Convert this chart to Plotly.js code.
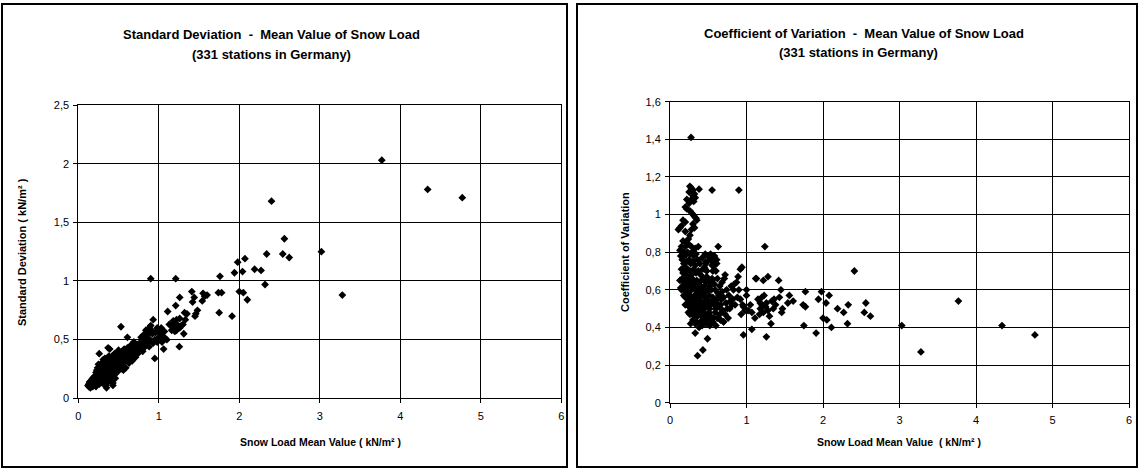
<!DOCTYPE html>
<html>
<head>
<meta charset="utf-8">
<script src="https://cdn.plot.ly/plotly-3.0.1.min.js"></script>
<style>html,body{margin:0;padding:0;background:#fff;}#chart{width:1140px;height:468px;}</style>
</head>
<body>
<div id="chart"></div>
<script>
// ---------- Left chart: Standard deviation vs mean value (kN/m²) ----------
const meanL = [
2.40,2.56,2.54,2.62,2.34,3.02,3.28,3.77,4.34,4.77,
2.07,1.98,1.94,2.04,2.19,2.27,2.32,1.76,1.74,1.78,1.75,1.91,2.00,2.05,2.10,1.55,1.60,1.54,1.41,1.44,1.42,1.46,1.48,1.45,
1.21,0.90,1.26,1.21,1.32,1.35,1.33,1.26,1.11,1.30,1.31,1.255,1.06,0.95,0.93,0.90,0.88,1.57,
1.15,1.18,1.20,1.22,1.24,1.18,1.22,1.26,1.16,1.20,1.28,1.13,
0.95,0.98,1.00,1.02,1.05,1.08,1.10,1.00,0.96,1.04,0.93,1.03,0.92,0.98,1.07,
0.75,0.78,0.80,0.82,0.85,0.87,0.84,0.86,0.80,0.78,0.83,0.89,0.76,0.91,0.88,0.81,0.74,
0.53,0.61,0.50,0.52,0.54,0.56,0.58,0.60,0.62,0.64,0.66,0.68,0.70,0.72,0.55,0.57,0.63,0.67,0.71,0.73,0.51,0.59,0.65,0.69,0.53,0.61,0.58,0.74,0.56,0.50,
0.13,0.14,0.15,0.16,0.17,0.18,0.19,0.15,0.17,0.19,0.20,0.14,0.18,0.16,0.20,0.13,0.12,
0.21,0.22,0.23,0.24,0.25,0.26,0.27,0.28,0.29,0.21,0.22,0.23,0.24,0.25,0.26,0.27,0.28,0.29,0.30,0.26,0.24,0.22,0.25,0.28,0.30,0.21,0.23,0.27,0.29,0.26,0.30,
0.31,0.32,0.33,0.34,0.35,0.36,0.37,0.38,0.39,0.31,0.32,0.33,0.34,0.35,0.36,0.37,0.38,0.39,0.40,0.31,0.33,0.35,0.37,0.39,0.36,0.40,0.32,0.34,0.38,0.40,
0.41,0.42,0.43,0.44,0.45,0.46,0.47,0.48,0.49,0.41,0.42,0.43,0.44,0.45,0.46,0.47,0.48,0.49,0.50,0.42,0.44,0.46,0.48,0.43,0.45
];
const sdL = [
1.68,1.36,1.23,1.20,1.23,1.25,0.88,2.03,1.78,1.71,
1.19,1.16,1.07,1.08,1.10,1.09,0.97,1.04,0.90,0.90,0.73,0.70,0.91,0.90,0.84,0.895,0.88,0.83,0.91,0.86,0.82,0.72,0.75,0.70,
1.02,1.02,0.86,0.79,0.73,0.72,0.67,0.68,0.74,0.63,0.55,0.44,0.42,0.34,0.67,0.62,0.60,0.87,
0.62,0.60,0.64,0.58,0.62,0.66,0.67,0.60,0.58,0.57,0.62,0.63,
0.50,0.48,0.52,0.55,0.53,0.51,0.50,0.58,0.56,0.48,0.47,0.60,0.55,0.60,0.57,
0.42,0.45,0.47,0.50,0.52,0.55,0.58,0.48,0.40,0.52,0.44,0.50,0.47,0.58,0.44,0.54,0.38,
0.61,0.52,0.30,0.33,0.28,0.35,0.31,0.38,0.34,0.40,0.36,0.42,0.39,0.44,0.40,0.42,0.30,0.32,0.35,0.46,0.37,0.26,0.45,0.48,0.25,0.43,0.36,0.41,0.24,0.41,
0.10,0.12,0.09,0.11,0.13,0.10,0.14,0.13,0.16,0.18,0.12,0.14,0.17,0.15,0.16,0.12,0.11,
0.13,0.15,0.18,0.20,0.22,0.24,0.26,0.19,0.21,0.19,0.22,0.12,0.14,0.16,0.18,0.15,0.28,0.17,0.24,0.38,0.26,0.10,0.29,0.23,0.13,0.16,0.24,0.20,0.30,0.12,0.19,
0.16,0.20,0.22,0.25,0.28,0.30,0.32,0.18,0.21,0.26,0.30,0.14,0.11,0.09,0.19,0.24,0.27,0.34,0.29,0.33,0.34,0.22,0.43,0.42,0.13,0.16,0.24,0.18,0.36,0.23,
0.20,0.25,0.13,0.28,0.31,0.34,0.37,0.22,0.27,0.32,0.19,0.30,0.35,0.24,0.17,0.29,0.33,0.39,0.25,0.36,0.22,0.27,0.30,0.11,0.38
];

// ---------- Right chart: Coefficient of variation vs mean value ----------
const meanR = [
0.275,0.38,0.55,0.90,0.63,1.24,2.41,0.94,0.92,0.87,0.84,0.89,1.00,1.00,
1.12,1.13,1.22,1.28,1.42,1.45,1.77,1.98,2.08,1.94,2.04,1.56,1.61,1.54,1.74,1.77,2.19,2.27,2.33,2.32,2.00,2.05,2.11,1.91,1.75,2.56,2.54,2.62,1.32,1.07,1.26,0.96,
1.15,1.20,1.18,1.18,1.22,1.26,1.33,1.36,1.35,1.30,1.11,1.07,1.02,0.96,1.47,1.46,1.43,1.05,0.98,1.20,1.25,1.17,1.28,1.23,1.38,
3.03,3.28,3.77,4.34,4.77,
0.80,0.82,0.78,0.85,0.88,0.76,0.72,0.90,0.92,0.95,0.93,
0.72,0.71,0.65,0.63,0.67,0.73,0.79,0.81,0.75,0.69,0.65,0.59,0.57,0.55,0.49,0.52,0.61,0.46,0.66,0.70,0.74,0.68,0.62,0.60,0.58,0.61,0.57,0.53,0.50,0.47,0.55,0.59,0.64,0.77,0.83,
0.26,0.28,0.30,0.32,0.25,0.30,0.33,0.22,0.28,0.31,0.20,0.25,0.22,0.26,0.30,0.34,0.28,0.32,0.35,0.17,0.20,0.13,0.11,0.15,0.20,0.26,0.24,0.30,0.32,0.28,0.17,0.20,0.22,0.25,0.28,0.33,0.37,0.15,0.18,0.13,
0.14,0.16,0.19,0.21,0.23,0.26,0.29,0.31,0.34,0.18,0.20,0.22,0.25,0.27,0.30,0.33,0.36,0.39,0.42,0.15,0.17,0.19,0.21,0.23,0.26,0.28,0.31,0.34,0.37,0.40,0.43,0.13,0.16,0.18,0.20,0.22,0.24,0.27,0.29,0.32,0.35,0.38,0.41,0.44,0.14,0.15,0.17,0.19,0.21,0.23,0.25,0.28,0.30,0.33,0.36,0.39,0.42,0.45,0.47,0.49,0.48,0.45,
0.18,0.20,0.22,0.24,0.26,0.28,0.30,0.32,0.34,0.36,0.38,0.40,0.43,0.46,0.48,0.51,0.54,0.56,0.20,0.23,0.25,0.27,0.29,0.31,0.33,0.35,0.37,0.39,0.41,0.44,0.47,0.50,0.53,0.55,0.58,0.24,0.26,0.28,0.30,0.32,0.34,0.36,0.38,0.41,0.43,0.46,0.48,0.51,0.53,0.60,0.62,0.66,0.70,0.68,0.64,0.58,0.55,0.52,0.50,
0.27,0.30,0.33,0.35,0.38,0.40,0.42,0.45,0.47,0.33,0.36,0.43,0.49,0.52,0.56,0.62,0.66,0.70,0.60,
0.46,0.50,0.53,0.55,0.56,0.55,0.52,0.48,0.46,0.47,0.58,0.61
];
const cvR = [
1.41,1.135,1.13,1.13,0.83,0.83,0.70,0.72,0.71,0.64,0.63,0.67,0.60,0.57,
0.66,0.66,0.65,0.67,0.65,0.60,0.59,0.59,0.57,0.55,0.53,0.57,0.54,0.53,0.52,0.51,0.50,0.48,0.52,0.42,0.45,0.44,0.40,0.37,0.41,0.53,0.48,0.46,0.42,0.39,0.35,0.36,
0.55,0.56,0.53,0.50,0.48,0.53,0.54,0.55,0.50,0.46,0.45,0.48,0.49,0.51,0.50,0.48,0.56,0.52,0.49,0.52,0.51,0.47,0.49,0.57,0.52,
0.41,0.27,0.54,0.41,0.36,
0.62,0.55,0.50,0.52,0.56,0.45,0.47,0.60,0.55,0.52,0.47,
0.68,0.66,0.62,0.58,0.55,0.53,0.54,0.52,0.50,0.49,0.47,0.48,0.45,0.43,0.44,0.50,0.53,0.56,0.44,0.43,0.60,0.64,0.66,0.70,0.73,0.76,0.78,0.79,0.78,0.74,0.75,0.60,0.51,0.57,0.60,
1.15,1.14,1.13,1.11,1.12,1.10,1.09,1.08,1.08,1.07,1.04,1.06,1.03,1.02,1.00,0.98,1.01,0.99,0.97,0.97,0.96,0.93,0.92,0.94,0.91,0.89,0.87,0.95,0.93,0.92,0.86,0.83,0.85,0.84,0.83,0.82,0.83,0.83,0.80,0.81,
0.78,0.76,0.78,0.79,0.80,0.79,0.80,0.78,0.79,0.74,0.72,0.75,0.76,0.74,0.75,0.73,0.76,0.74,0.77,0.71,0.69,0.70,0.68,0.71,0.70,0.68,0.71,0.69,0.70,0.68,0.71,0.65,0.66,0.64,0.65,0.63,0.66,0.64,0.66,0.64,0.65,0.63,0.65,0.66,0.61,0.60,0.62,0.60,0.61,0.59,0.61,0.60,0.62,0.60,0.61,0.59,0.61,0.62,0.64,0.66,0.70,0.72,
0.57,0.56,0.58,0.55,0.57,0.56,0.54,0.57,0.55,0.58,0.56,0.54,0.57,0.59,0.55,0.57,0.60,0.56,0.52,0.53,0.51,0.53,0.50,0.52,0.51,0.53,0.50,0.52,0.50,0.53,0.51,0.53,0.52,0.54,0.52,0.48,0.47,0.49,0.47,0.46,0.48,0.46,0.48,0.46,0.49,0.47,0.45,0.48,0.46,0.50,0.55,0.52,0.56,0.59,0.57,0.63,0.65,0.62,0.60,
0.42,0.44,0.42,0.43,0.40,0.43,0.41,0.44,0.42,0.37,0.25,0.28,0.34,0.41,0.43,0.45,0.44,0.43,0.41,
0.79,0.78,0.76,0.73,0.70,0.66,0.64,0.67,0.71,0.75,0.78,0.74
];

const leftTitle1 = "Standard Deviation  -  Mean Value of Snow Load";
const leftTitle2 = "(331 stations in Germany)";
const rightTitle1 = "Coefficient of Variation  -  Mean Value of Snow Load";
const rightTitle2 = "(331 stations in Germany)";
const leftYTitle = "Standard Deviation ( kN/m² )";
const rightYTitle = "Coefficient of Variation";
const leftXTitle = "Snow Load Mean Value ( kN/m² )";
const rightXTitle = "Snow Load Mean Value  ( kN/m² )";

const W = 1140, H = 468;
const px = v => v / W;
const py = v => 1 - v / H;
const FONT = "Liberation Sans, Arial, sans-serif";

const marker = {symbol: 'diamond', size: 6, color: '#000', line: {width: 0}};

const traces = [
  {type: 'scatter', mode: 'markers', x: meanL, y: sdL, xaxis: 'x', yaxis: 'y', marker: marker, hoverinfo: 'x+y'},
  {type: 'scatter', mode: 'markers', x: meanR, y: cvR, xaxis: 'x2', yaxis: 'y2', marker: marker, hoverinfo: 'x+y'}
];

const axisCommon = {
  showgrid: true, gridcolor: '#000', gridwidth: 1,
  showline: true, linecolor: '#000', linewidth: 1, mirror: true,
  ticks: 'outside', ticklen: 4, tickcolor: '#000', tickwidth: 1,
  tickfont: {family: FONT, size: 11, color: '#000'},
  zeroline: false, fixedrange: true
};

const layout = {
  width: W, height: H,
  margin: {l: 0, r: 0, t: 0, b: 0},
  paper_bgcolor: '#fff', plot_bgcolor: '#fff',
  separators: ', ',
  showlegend: false,
  font: {family: FONT, color: '#000'},
  xaxis: Object.assign({}, axisCommon, {domain: [px(78.3), px(561.3)], range: [0, 6], dtick: 1, tick0: 0, anchor: 'y', ticklabelstandoff: 3}),
  yaxis: Object.assign({}, axisCommon, {domain: [py(398.3), py(105)], range: [0, 2.5], dtick: 0.5, tick0: 0, anchor: 'x', ticklabelstandoff: 2}),
  xaxis2: Object.assign({}, axisCommon, {domain: [px(670), px(1129)], range: [0, 6], dtick: 1, tick0: 0, anchor: 'y2', ticklabelstandoff: 3}),
  yaxis2: Object.assign({}, axisCommon, {domain: [py(402.7), py(101.7)], range: [0, 1.6], dtick: 0.2, tick0: 0, anchor: 'x2', ticklabelstandoff: 2}),
  shapes: [
    {type: 'rect', xref: 'paper', yref: 'paper', x0: px(2), x1: px(567), y0: py(467), y1: py(4), line: {color: '#000', width: 2}},
    {type: 'rect', xref: 'paper', yref: 'paper', x0: px(577), x1: px(1137), y0: py(467), y1: py(4), line: {color: '#000', width: 2}}
  ],
  annotations: [
    {text: '<b>' + leftTitle1 + '</b>', x: px(271.5), y: py(35), xref: 'paper', yref: 'paper', showarrow: false, xanchor: 'center', yanchor: 'middle', font: {family: FONT, size: 13, color: '#000'}},
    {text: '<b>' + leftTitle2 + '</b>', x: px(271), y: py(54), xref: 'paper', yref: 'paper', showarrow: false, xanchor: 'center', yanchor: 'middle', font: {family: FONT, size: 13, color: '#000'}},
    {text: '<b>' + rightTitle1 + '</b>', x: px(864), y: py(33.5), xref: 'paper', yref: 'paper', showarrow: false, xanchor: 'center', yanchor: 'middle', font: {family: FONT, size: 13, color: '#000'}},
    {text: '<b>' + rightTitle2 + '</b>', x: px(858), y: py(52.5), xref: 'paper', yref: 'paper', showarrow: false, xanchor: 'center', yanchor: 'middle', font: {family: FONT, size: 13, color: '#000'}},
    {text: '<b>' + leftYTitle + '</b>', x: px(22), y: py(252), xref: 'paper', yref: 'paper', showarrow: false, textangle: -90, xanchor: 'center', yanchor: 'middle', font: {family: FONT, size: 11, color: '#000'}},
    {text: '<b>' + rightYTitle + '</b>', x: px(625), y: py(252), xref: 'paper', yref: 'paper', showarrow: false, textangle: -90, xanchor: 'center', yanchor: 'middle', font: {family: FONT, size: 11, color: '#000'}},
    {text: '<b>' + leftXTitle + '</b>', x: px(320), y: py(442), xref: 'paper', yref: 'paper', showarrow: false, xanchor: 'center', yanchor: 'middle', font: {family: FONT, size: 10.5, color: '#000'}},
    {text: '<b>' + rightXTitle + '</b>', x: px(899), y: py(442), xref: 'paper', yref: 'paper', showarrow: false, xanchor: 'center', yanchor: 'middle', font: {family: FONT, size: 10.5, color: '#000'}}
  ]
};

Plotly.newPlot('chart', traces, layout, {displayModeBar: false, staticPlot: true});
</script>
</body>
</html>
